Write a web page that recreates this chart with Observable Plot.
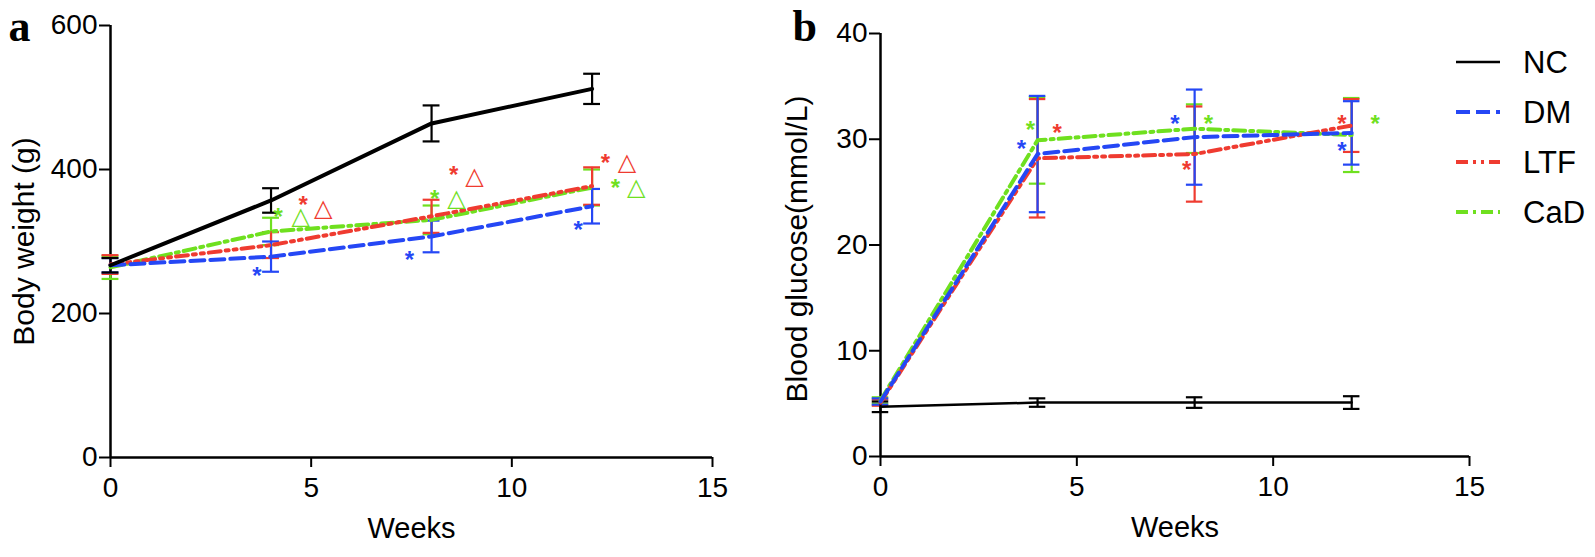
<!DOCTYPE html>
<html><head><meta charset="utf-8">
<script src="https://cdn.jsdelivr.net/npm/d3@7"></script>
<script src="https://cdn.jsdelivr.net/npm/@observablehq/plot@0.6"></script>
<style>
body{margin:0;background:#fff;}
#wrap{position:relative;width:1595px;height:557px;overflow:hidden;font-family:"Liberation Sans",Arial,sans-serif;}
#wrap svg{position:absolute;top:0;}
</style></head><body><div id="wrap"></div>
<script>
// ---------- data ----------
const weeks = [0, 4, 8, 12];
const groups = ["NC", "DM", "LTF", "CaD"];

// Body weight (g): mean and error
const bwNC = [267, 357, 464, 512];
const bwNCse = [10, 17, 25, 21];
const bwDM = [267, 279, 307, 349];
const bwDMse = [10, 21, 22, 24];
const bwLTF = [268, 295, 335, 377];
const bwLTFse = [13, 18, 23, 26];
const bwCaD = [264, 314, 330, 375];
const bwCaDse = [16, 19, 20, 25];

// Blood glucose (mmol/L): mean and error
const bgNC = [4.7, 5.1, 5.1, 5.1];
const bgNCse = [0.5, 0.4, 0.5, 0.6];
const bgDM = [5.2, 28.6, 30.2, 30.6];
const bgDMse = [0.3, 5.5, 4.5, 3.0];
const bgLTF = [5.1, 28.2, 28.6, 31.3];
const bgLTFse = [0.3, 5.6, 4.5, 2.5];
const bgCaD = [5.3, 29.9, 31.0, 30.4];
const bgCaDse = [0.3, 4.1, 2.3, 3.5];

// significance marks (text, group, week, value)
const bwNoteText  = ["*", "△", "*", "△", "*", "*", "△", "*", "△", "*", "*", "△", "*", "△", "*"];
const bwNoteGroup = ["CaD","CaD","LTF","LTF","DM","CaD","CaD","LTF","LTF","DM","LTF","LTF","CaD","CaD","DM"];
const bwNoteX = [4.18, 4.74, 4.8, 5.3, 3.65, 8.08, 8.62, 8.55, 9.07, 7.45, 12.33, 12.87, 12.58, 13.1, 11.65];
const bwNoteY = [343, 336, 360, 347, 261, 369, 362, 402, 392, 283, 418, 412, 383, 376, 325];

const bgNoteText  = ["*", "*", "*", "*", "*", "*", "*", "*", "*"];
const bgNoteGroup = ["DM","CaD","LTF","DM","CaD","LTF","LTF","DM","CaD"];
const bgNoteX = [3.59, 3.82, 4.5, 7.5, 8.35, 7.8, 11.75, 11.75, 12.6];
const bgNoteY = [29.7, 31.5, 31.2, 32.1, 32.1, 27.7, 32.1, 29.5, 32.1];

// ---------- styles ----------
const colorOf = {NC: "#000000", DM: "#2547f5", LTF: "#ef3b30", CaD: "#6fe01f"};
const dashOf = {NC: null, DM: "14,6", LTF: "12,5,3,5,3,5", CaD: "12,5,3,5"};
const drawOrder = ["CaD", "LTF", "DM", "NC"];

function table(meanArrs, seArrs) {
  const rows = [];
  groups.forEach((g, gi) => weeks.forEach((w, i) => rows.push({group: g, week: w, mean: meanArrs[gi][i], lo: meanArrs[gi][i] - seArrs[gi][i], hi: meanArrs[gi][i] + seArrs[gi][i]})));
  return rows;
}
function notes(text, grp, xs, ys) {
  return text.map((t, i) => ({t, group: grp[i], x: xs[i], y: ys[i]}));
}

function panel({rows, noteRows, yDomain, yTicks, yLabel, letter, width, marginLeft, marginRight, marginTop, marginBottom, ncWidth, labelDx, labelDy, letterDx, triSize}) {
  const marks = [];
  marks.push(Plot.ruleX([0], {y1: yDomain[0], y2: yDomain[1], stroke: "black", strokeWidth: 2.5}));
  marks.push(Plot.ruleY([yDomain[0]], {x1: 0, x2: 15, stroke: "black", strokeWidth: 2.5}));
  marks.push(Plot.axisY({ticks: yTicks, tickSize: 11, tickPadding: 2, fontSize: 28, strokeWidth: 2, label: null}));
  marks.push(Plot.axisX({ticks: [0, 5, 10, 15], tickSize: 10, tickPadding: 10, fontSize: 28, strokeWidth: 2, label: null}));
  for (const g of drawOrder) {
    const d = rows.filter(r => r.group === g);
    const caps = d.flatMap(r => [{week: r.week, v: r.lo}, {week: r.week, v: r.hi}]);
    marks.push(Plot.ruleX(d, {x: "week", y1: "lo", y2: "hi", stroke: colorOf[g], strokeWidth: 2.2}));
    marks.push(Plot.ruleY(caps, {y: "v", x1: r => r.week - 0.21, x2: r => r.week + 0.21, stroke: colorOf[g], strokeWidth: 2.2}));
  }
  for (const g of drawOrder) {
    const d = rows.filter(r => r.group === g);
    marks.push(Plot.line(d, {x: "week", y: "mean", stroke: colorOf[g], strokeWidth: g === "NC" ? ncWidth : 4, strokeDasharray: dashOf[g]}));
  }
  const stars = noteRows.filter(n => n.t === "*");
  const tris = noteRows.filter(n => n.t !== "*");
  marks.push(Plot.text(stars, {x: "x", y: "y", text: "t", fill: n => colorOf[n.group], fontSize: 24, fontWeight: "bold", dy: 7}));
  marks.push(Plot.text(tris, {x: "x", y: "y", text: "t", fill: n => colorOf[n.group], fontSize: triSize, fontFamily: "DejaVu Sans", dy: 1}));
  marks.push(Plot.text(["Weeks"], {frameAnchor: "bottom", textAnchor: "middle", dy: 80, fontSize: 29, fill: "black"}));
  marks.push(Plot.text([yLabel], {frameAnchor: "left", textAnchor: "middle", lineAnchor: "middle", rotate: -90, dx: labelDx, dy: labelDy, fontSize: 30, fill: "black"}));
  marks.push(Plot.text([letter], {frameAnchor: "top-left", textAnchor: "start", lineAnchor: "bottom", dx: letterDx, dy: 40 - marginTop, fontSize: 44, fontWeight: "bold", fontFamily: "Liberation Serif, Times New Roman, serif", fill: "black"}));
  return Plot.plot({
    width, height: 557, marginLeft, marginRight, marginTop, marginBottom,
    x: {domain: [0, 15]},
    y: {domain: yDomain},
    style: {fontFamily: "Liberation Sans, Arial, sans-serif", color: "black", background: "transparent", overflow: "visible"},
    marks
  });
}

const wrap = document.getElementById("wrap");

const svgA = panel({
  rows: table([bwNC, bwDM, bwLTF, bwCaD], [bwNCse, bwDMse, bwLTFse, bwCaDse]),
  noteRows: notes(bwNoteText, bwNoteGroup, bwNoteX, bwNoteY),
  yDomain: [0, 600], yTicks: [0, 200, 400, 600], yLabel: "Body weight (g)", letter: "a",
  width: 780, marginLeft: 110, marginRight: 68, marginTop: 25, marginBottom: 100,
  ncWidth: 4, labelDx: -86, labelDy: 0, letterDx: -102, triSize: 24
});
svgA.style.left = "0px";
wrap.appendChild(svgA);

const svgB = panel({
  rows: table([bgNC, bgDM, bgLTF, bgCaD], [bgNCse, bgDMse, bgLTFse, bgCaDse]),
  noteRows: notes(bgNoteText, bgNoteGroup, bgNoteX, bgNoteY),
  yDomain: [0, 40], yTicks: [0, 10, 20, 30, 40], yLabel: "Blood glucose(mmol/L)", letter: "b",
  width: 815, marginLeft: 100, marginRight: 126, marginTop: 33, marginBottom: 101,
  ncWidth: 2.5, labelDx: -83, labelDy: 4, letterDx: -88, triSize: 24
});
svgB.style.left = "780px";
wrap.appendChild(svgB);

// legend
const leg = d3.select(wrap).append("svg")
  .attr("width", 160).attr("height", 240)
  .style("left", "1440px").style("top", "0px");
groups.forEach((g, i) => {
  const y = 62 + i * 50;
  leg.append("line").attr("x1", 16).attr("x2", 60).attr("y1", y).attr("y2", y)
    .attr("stroke", colorOf[g]).attr("stroke-width", g === "NC" ? 2.5 : 4)
    .attr("stroke-dasharray", dashOf[g]);
  leg.append("text").attr("x", 83).attr("y", y + 11).text(g)
    .attr("font-size", 31).attr("font-family", "Liberation Sans, Arial, sans-serif").attr("fill", "black");
});
</script></body></html>
